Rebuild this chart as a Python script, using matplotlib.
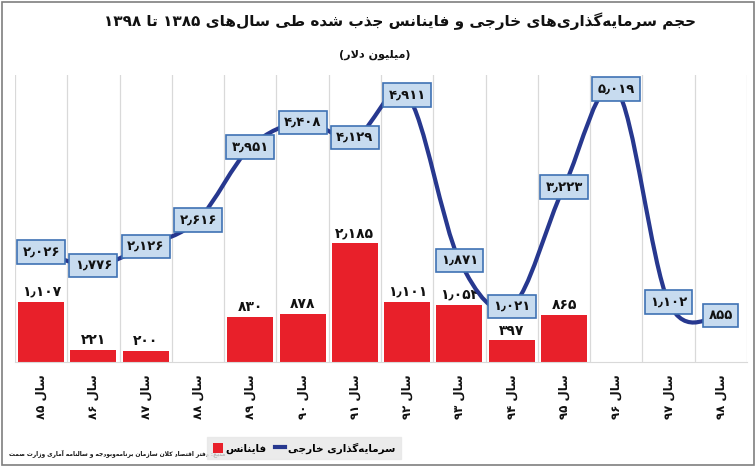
import matplotlib
matplotlib.use("Agg")
import matplotlib.pyplot as plt
from matplotlib.path import Path
from matplotlib.patches import PathPatch, Rectangle
from matplotlib.lines import Line2D
import numpy as np

# ---------------- data ----------------
years = ['۸۵', '۸۶', '۸۷', '۸۸', '۸۹', '۹۰', '۹۱', '۹۲', '۹۳', '۹۴', '۹۵', '۹۶', '۹۷', '۹۸']
finance = [1107, 221, 200, np.nan, 830, 878, 2185, 1101, 1054, 397, 865, np.nan, np.nan, np.nan]
foreign_inv = [2026, 1776, 2126, 2616, 3951, 4408, 4129, 4911, 1871, 1021, 3223, 5019, 1102, 855]
title_text = 'حجم سرمایه\u200cگذاری\u200cهای خارجی و فاینانس جذب شده طی سال\u200cهای ۱۳۸۵ تا ۱۳۹۸'
subtitle_text = 'میلیون دلار'
source_text = 'منبع: دفتر اقتصاد کلان سازمان برنامه\u200cوبودجه و سالنامه آماری وزارت صمت'
label_inv = 'سرمایه\u200cگذاری خارجی'
label_fin = 'فاینانس'
year_prefix = 'سال'

# ---------------- minimal Persian shaping ----------------
FORMS = {
    '\u0627': ('\uFE8D', '\uFE8E', None, None),
    '\u0622': ('\uFE81', '\uFE82', None, None),
    '\u0628': ('\uFE8F', '\uFE90', '\uFE91', '\uFE92'),
    '\u067E': ('\uFB56', '\uFB57', '\uFB58', '\uFB59'),
    '\u062A': ('\uFE95', '\uFE96', '\uFE97', '\uFE98'),
    '\u062B': ('\uFE99', '\uFE9A', '\uFE9B', '\uFE9C'),
    '\u062C': ('\uFE9D', '\uFE9E', '\uFE9F', '\uFEA0'),
    '\u0686': ('\uFB7A', '\uFB7B', '\uFB7C', '\uFB7D'),
    '\u062D': ('\uFEA1', '\uFEA2', '\uFEA3', '\uFEA4'),
    '\u062E': ('\uFEA5', '\uFEA6', '\uFEA7', '\uFEA8'),
    '\u062F': ('\uFEA9', '\uFEAA', None, None),
    '\u0630': ('\uFEAB', '\uFEAC', None, None),
    '\u0631': ('\uFEAD', '\uFEAE', None, None),
    '\u0632': ('\uFEAF', '\uFEB0', None, None),
    '\u0698': ('\uFB8A', '\uFB8B', None, None),
    '\u0633': ('\uFEB1', '\uFEB2', '\uFEB3', '\uFEB4'),
    '\u0634': ('\uFEB5', '\uFEB6', '\uFEB7', '\uFEB8'),
    '\u0635': ('\uFEB9', '\uFEBA', '\uFEBB', '\uFEBC'),
    '\u0636': ('\uFEBD', '\uFEBE', '\uFEBF', '\uFEC0'),
    '\u0637': ('\uFEC1', '\uFEC2', '\uFEC3', '\uFEC4'),
    '\u0638': ('\uFEC5', '\uFEC6', '\uFEC7', '\uFEC8'),
    '\u0639': ('\uFEC9', '\uFECA', '\uFECB', '\uFECC'),
    '\u063A': ('\uFECD', '\uFECE', '\uFECF', '\uFED0'),
    '\u0641': ('\uFED1', '\uFED2', '\uFED3', '\uFED4'),
    '\u0642': ('\uFED5', '\uFED6', '\uFED7', '\uFED8'),
    '\u06A9': ('\uFB8E', '\uFB8F', '\uFB90', '\uFB91'),
    '\u06AF': ('\uFB92', '\uFB93', '\uFB94', '\uFB95'),
    '\u0644': ('\uFEDD', '\uFEDE', '\uFEDF', '\uFEE0'),
    '\u0645': ('\uFEE1', '\uFEE2', '\uFEE3', '\uFEE4'),
    '\u0646': ('\uFEE5', '\uFEE6', '\uFEE7', '\uFEE8'),
    '\u0648': ('\uFEED', '\uFEEE', None, None),
    '\u0647': ('\uFEE9', '\uFEEA', '\uFEEB', '\uFEEC'),
    '\u06CC': ('\uFBFC', '\uFBFD', '\uFBFE', '\uFBFF'),
}
LAM_ALEF = {'\u0627': ('\uFEFB', '\uFEFC'), '\u0622': ('\uFEF5', '\uFEF6')}


def shape_word(word):
    out = []
    chars = list(word)
    n = len(chars)
    i = 0
    while i < n:
        c = chars[i]
        if c == '\u200c':
            i += 1
            continue
        if c not in FORMS:
            out.append(c)
            i += 1
            continue
        prev = chars[i - 1] if i > 0 else None
        prev_joins = prev is not None and prev in FORMS and FORMS[prev][2] is not None
        if c == '\u0644' and i + 1 < n and chars[i + 1] in LAM_ALEF:
            iso, fin = LAM_ALEF[chars[i + 1]]
            out.append(fin if prev_joins else iso)
            i += 2
            continue
        nxt = chars[i + 1] if i + 1 < n else None
        next_joins = FORMS[c][2] is not None and nxt is not None and nxt in FORMS
        iso, fin, ini, med = FORMS[c]
        if prev_joins and next_joins:
            out.append(med)
        elif prev_joins:
            out.append(fin)
        elif next_joins:
            out.append(ini)
        else:
            out.append(iso)
        i += 1
    return ''.join(out)


def is_number(tok):
    return all(ch in '۰۱۲۳۴۵۶۷۸۹0123456789٫٬.,' for ch in tok)


def rtl(text):
    toks = text.split(' ')
    vis = []
    for t in toks:
        if is_number(t):
            vis.append(t)
        else:
            vis.append(shape_word(t)[::-1])
    return ' '.join(vis[::-1])


def fa_num(v):
    s = f"{int(v):,}"
    trans = str.maketrans('0123456789,', '۰۱۲۳۴۵۶۷۸۹\u066B')
    return s.translate(trans)


# ---------------- figure ----------------
FONT = 'DejaVu Sans'
plt.rcParams['font.family'] = [FONT]

W, H = 756, 467
fig = plt.figure(figsize=(W / 100, H / 100), dpi=100)
fig.patch.set_facecolor('white')
fig.patches.append(Rectangle((2 / W, 2 / H), 1 - 4 / W, 1 - 4 / H, transform=fig.transFigure,
                             fill=False, edgecolor='#7f7f7f', linewidth=1.2))

left, right, top, bottom = 15, 747, 75, 362
ax = fig.add_axes([left / W, 1 - bottom / H, (right - left) / W, (bottom - top) / H])

x = np.arange(len(years))
ax.set_xlim(-0.5, len(years) - 0.5)
ax.set_ylim(0, 5280)

# vertical gridlines at category boundaries
for b in np.arange(-0.5, len(years) + 0.5, 1):
    ax.axvline(b, color='#d9d9d9', linewidth=0.9, zorder=0)

bar_color = '#e8202a'
fin_arr = np.array(finance, dtype=float)
ax.bar(x, np.nan_to_num(fin_arr), width=0.88, color=bar_color, zorder=2)
for xi, v in zip(x, fin_arr):
    if not np.isnan(v):
        ax.annotate(fa_num(v), (xi, v), xytext=(0, 2), textcoords='offset points',
                    ha='center', va='bottom', fontsize=10, fontweight='bold', color='#111111', zorder=3)

# smoothed line (Catmull-Rom style bezier through data points)
line_color = '#27388f'
pts = np.column_stack([x, np.array(foreign_inv, dtype=float)])
verts = [tuple(pts[0])]
codes = [Path.MOVETO]
n = len(pts)
for i in range(n - 1):
    p0 = pts[i - 1] if i > 0 else pts[i]
    p1 = pts[i]
    p2 = pts[i + 1]
    p3 = pts[i + 2] if i + 2 < n else pts[i + 1]
    c1 = p1 + (p2 - p0) / 6.0
    c2 = p2 - (p3 - p1) / 6.0
    verts += [tuple(c1), tuple(c2), tuple(p2)]
    codes += [Path.CURVE4] * 3
ax.add_patch(PathPatch(Path(verts, codes), facecolor='none', edgecolor=line_color,
                       linewidth=3, zorder=4, capstyle='round', joinstyle='round'))

for xi, v in zip(x, foreign_inv):
    ax.text(xi, v, fa_num(v), ha='center', va='center', fontsize=9.5, fontweight='bold',
            color='#111111', zorder=6,
            bbox=dict(boxstyle='square,pad=0.4', facecolor='#c7dbef', edgecolor='#3f72b4', linewidth=1.2))

# axes styling
for s in ['top', 'right', 'left']:
    ax.spines[s].set_visible(False)
ax.spines['bottom'].set_color('#d9d9d9')
ax.set_yticks([])
ax.set_xticks(x)
ax.set_xticklabels([rtl(year_prefix + ' ' + y) for y in years], rotation=90,
                   fontsize=8.5, fontweight='bold', color='#111111')
ax.tick_params(axis='x', length=0, pad=9)

# titles
fig.text(400 / W, 1 - 21 / H, rtl(title_text), ha='center', va='center',
         fontsize=11, fontweight='bold', color='#111111')
fig.text(375 / W, 1 - 55 / H, '(' + rtl(subtitle_text) + ')', ha='center', va='center',
         fontsize=8, fontweight='bold', color='#111111')
fig.text(9 / W, 1 - 453 / H, rtl(source_text), ha='left', va='center',
         fontsize=4.2, fontweight='bold', color='#111111')

# legend
handles = [Rectangle((0, 0), 1, 1, facecolor=bar_color, edgecolor='none'),
           Line2D([0], [0], color=line_color, linewidth=3)]
leg = fig.legend(handles, [rtl(label_fin), rtl(label_inv)], ncol=2,
                 loc='center', bbox_to_anchor=(304 / W, 1 - 448 / H),
                 frameon=True, fancybox=False,
                 prop={'weight': 'bold', 'size': 7.5},
                 handlelength=1.0, handleheight=1.0, handletextpad=0.25, columnspacing=0.8,
                 borderpad=0.5)
leg.get_frame().set_facecolor('#e6e6e6')
leg.get_frame().set_edgecolor('#e6e6e6')

fig.savefig('out.png', dpi=100, facecolor='white')
